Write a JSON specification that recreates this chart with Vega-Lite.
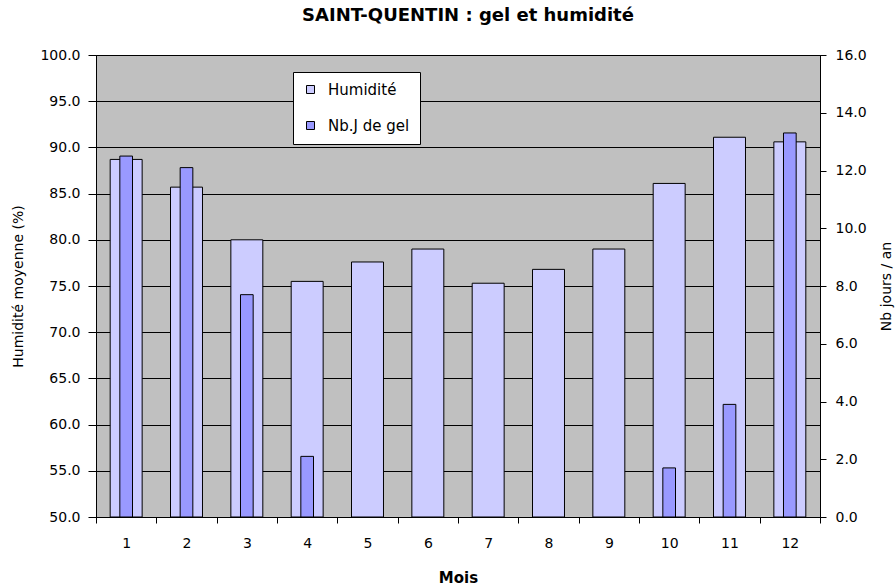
{
  "$schema": "https://vega.github.io/schema/vega-lite/v6.json",
  "width": 724,
  "height": 462,
  "autosize": {"type": "none"},
  "padding": {"left": 96, "top": 55, "right": 76, "bottom": 68},
  "background": "white",
  "title": {"text": "SAINT-QUENTIN : gel et humidité", "font": "DejaVu Sans", "fontSize": 18, "fontWeight": "bold", "color": "black", "offset": 23, "dx": 10, "anchor": "middle"},
  "config": {
    "view": {"fill": "#C0C0C0", "stroke": "black", "strokeWidth": 1},
    "axis": {"labelFont": "DejaVu Sans", "titleFont": "DejaVu Sans", "labelColor": "black", "titleColor": "black", "domainColor": "black", "tickColor": "black", "labelFontSize": 14, "titleFontSize": 14, "titleFontWeight": "normal"}
  },
  "data": {"values": [
    {"Mois": "1", "Humidite": 88.7, "Gel": 12.5},
    {"Mois": "2", "Humidite": 85.7, "Gel": 12.1},
    {"Mois": "3", "Humidite": 80.0, "Gel": 7.7},
    {"Mois": "4", "Humidite": 75.5, "Gel": 2.1},
    {"Mois": "5", "Humidite": 77.6, "Gel": null},
    {"Mois": "6", "Humidite": 79.0, "Gel": null},
    {"Mois": "7", "Humidite": 75.3, "Gel": null},
    {"Mois": "8", "Humidite": 76.8, "Gel": null},
    {"Mois": "9", "Humidite": 79.0, "Gel": null},
    {"Mois": "10", "Humidite": 86.1, "Gel": 1.7},
    {"Mois": "11", "Humidite": 91.1, "Gel": 3.9},
    {"Mois": "12", "Humidite": 90.6, "Gel": 13.3}
  ]},
  "encoding": {
    "x": {"field": "Mois", "type": "ordinal", "sort": null,
      "scale": {"paddingInner": 0, "paddingOuter": 0},
      "axis": {"title": "Mois", "titleFontWeight": "bold", "titleFontSize": 15, "labelAngle": 0, "tickBand": "extent", "tickSize": 6, "labelPadding": 13, "titlePadding": 20, "domainWidth": 1}
    }
  },
  "layer": [
    {
      "mark": {"type": "bar", "stroke": "black", "strokeWidth": 1, "width": {"band": 0.53}},
      "encoding": {
        "y": {"field": "Humidite", "type": "quantitative",
          "scale": {"domain": [50, 100], "zero": false, "nice": false},
          "axis": {"title": "Humidité moyenne (%)", "values": [50,55,60,65,70,75,80,85,90,95,100], "format": ".1f", "grid": true, "gridColor": "black", "gridOpacity": 1, "gridWidth": 1, "tickSize": 8, "labelPadding": 8, "titlePadding": 14}},
        "y2": {"datum": 50},
        "color": {"datum": "Humidité", "type": "nominal",
          "scale": {"domain": ["Humidité", "Nb.J de gel"], "range": ["#CCCCFF", "#9999FF"]},
          "legend": {"orient": "none", "legendX": 197, "legendY": 17, "title": null, "symbolType": "square", "symbolSize": 64, "symbolStrokeColor": "black", "symbolStrokeWidth": 1, "symbolOpacity": 1, "labelFont": "DejaVu Sans", "labelFontSize": 15, "labelColor": "black", "fillColor": "white", "strokeColor": "black", "padding": 10, "rowPadding": 20, "labelOffset": 10}}
      }
    },
    {
      "mark": {"type": "bar", "stroke": "black", "strokeWidth": 1, "width": {"band": 0.21}},
      "encoding": {
        "y": {"field": "Gel", "type": "quantitative",
          "scale": {"domain": [0, 16], "nice": false},
          "axis": {"orient": "right", "title": "Nb jours / an", "titleAngle": 270, "values": [0,2,4,6,8,10,12,14,16], "format": ".1f", "grid": false, "tickSize": 6, "labelPadding": 9, "titlePadding": 27}},
        "color": {"datum": "Nb.J de gel", "type": "nominal"}
      }
    }
  ],
  "resolve": {"scale": {"y": "independent"}}
}
